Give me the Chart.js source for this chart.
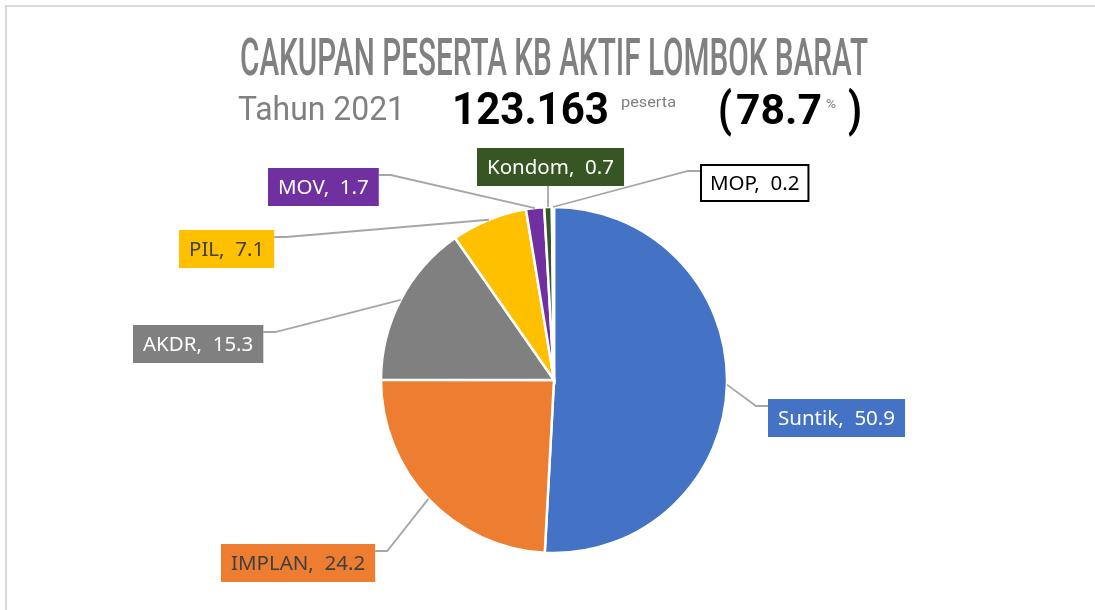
<!DOCTYPE html>
<html>
<head>
<meta charset="utf-8">
<title>Cakupan Peserta KB Aktif Lombok Barat</title>
<script src="https://cdn.jsdelivr.net/npm/chart.js@4/dist/chart.umd.min.js"></script>
<style>
  html, body { margin: 0; padding: 0; background: #ffffff; }
  #wrap { position: relative; width: 1095px; height: 610px; overflow: hidden; }
  #frame { position: absolute; left: 5px; top: 5px; width: 1200px; height: 700px;
           border-left: 2px solid #d9d9d9; border-top: 2px solid #d9d9d9; }
  #pie { position: absolute; left: 0; top: 0; }
  .hd { position: absolute; white-space: nowrap; line-height: 1; font-family: Roboto, "Noto Sans", sans-serif;
        transform-origin: 0 0; }
</style>
</head>
<body>
<div id="wrap">
  <div id="frame"></div>
  <canvas id="pie" width="1095" height="610"></canvas>
  <div id="header"></div>
</div>
<script>
// Contraceptive method share of active family-planning participants (%)
const categories = ['Suntik', 'IMPLAN', 'AKDR', 'PIL', 'MOV', 'Kondom', 'MOP'];
const shares     = [50.9, 24.2, 15.3, 7.1, 1.7, 0.7, 0.2];
const sliceColors = ['#4472C4', '#ED7D31', '#808080', '#FFC000', '#7030A0', '#375623', '#FFFFFF'];
const labelTextColors = ['#ffffff', '#404040', '#ffffff', '#404040', '#ffffff', '#ffffff', '#000000'];

// Header figures
const titleText = 'CAKUPAN PESERTA KB AKTIF LOMBOK BARAT';
const yearText = 'Tahun 2021';
const participantsText = '123.163';
const participantsUnit = 'peserta';
const coverageText = '78.7';

// Header pieces: text, left x, baseline y, font size, weight, colour, fitted width
const headerPieces = [
  { t: titleText,        x: 240, b: 76,  s: 52, w: 500, c: '#808080', fw: 628 },
  { t: yearText,         x: 238, b: 120, s: 33, w: 400, c: '#808080', fw: 167 },
  { t: participantsText, x: 452, b: 124, s: 45, w: 700, c: '#000000', fw: 157 },
  { t: participantsUnit, x: 621, b: 107, s: 14, w: 400, c: '#808080', fw: 55 },
  { t: '(',              x: 718, b: 126, s: 48, w: 700, c: '#000000', fw: 14 },
  { t: coverageText,     x: 736, b: 124, s: 43, w: 700, c: '#000000', fw: 86 },
  { t: '%',              x: 826, b: 108, s: 12, w: 400, c: '#808080', fw: 10 },
  { t: ')',              x: 848, b: 126, s: 48, w: 700, c: '#000000', fw: 14 }
];

// Callout box placement (left, top) and the side where the leader line meets it
const calloutLayout = [
  { left: 768, top: 399, side: 'left' },
  { left: 221, top: 544, side: 'right' },
  { left: 133, top: 325, side: 'right' },
  { left: 179, top: 230, side: 'right' },
  { left: 268, top: 168, side: 'right' },
  { left: 477, top: 148, side: 'bottom' },
  { left: 700, top: 164, side: 'left' }
];

const header = document.getElementById('header');
headerPieces.forEach(p => {
  const el = document.createElement('div');
  el.className = 'hd';
  el.textContent = p.t;
  el.style.fontSize = p.s + 'px';
  el.style.fontWeight = p.w;
  el.style.color = p.c;
  el.style.left = p.x + 'px';
  el.style.top = (p.b - 0.842 * p.s) + 'px';
  header.appendChild(el);
  const natural = el.getBoundingClientRect().width;
  if (natural > 0) el.style.transform = 'scaleX(' + (p.fw / natural) + ')';
});

const BOX_H = 38;
const PAD_X = 10;
const ELBOW = 12;
const ATTACH_DY = 7;

const calloutPlugin = {
  id: 'callouts',
  afterDatasetsDraw(chart) {
    const ctx = chart.ctx;
    const meta = chart.getDatasetMeta(0);
    ctx.save();
    ctx.font = '20.5px "Noto Sans", "Open Sans", sans-serif';
    meta.data.forEach((arc, i) => {
      const p = arc.getProps(['x', 'y', 'startAngle', 'endAngle', 'outerRadius'], true);
      const mid = (p.startAngle + p.endAngle) / 2;
      const ax = p.x + Math.cos(mid) * p.outerRadius;
      const ay = p.y + Math.sin(mid) * p.outerRadius;
      const text = categories[i] + ',  ' + shares[i].toFixed(1);
      const tw = ctx.measureText(text).width;
      const L = calloutLayout[i];
      const bw = tw + PAD_X * 2;
      const bx = L.left, by = L.top;

      // leader line
      ctx.strokeStyle = '#a6a6a6';
      ctx.lineWidth = 1.8;
      ctx.beginPath();
      ctx.moveTo(ax, ay);
      if (L.side === 'left') {
        const yy = by + ATTACH_DY;
        ctx.lineTo(bx - ELBOW, yy);
        ctx.lineTo(bx, yy);
      } else if (L.side === 'right') {
        const yy = by + ATTACH_DY;
        ctx.lineTo(bx + bw + ELBOW, yy);
        ctx.lineTo(bx + bw, yy);
      } else {
        ctx.lineTo(ax, by + BOX_H);
      }
      ctx.stroke();

      // label box
      const fill = sliceColors[i];
      ctx.fillStyle = fill;
      ctx.fillRect(bx, by, bw, BOX_H);
      if (fill.toUpperCase() === '#FFFFFF') {
        ctx.strokeStyle = '#000000';
        ctx.lineWidth = 2;
        ctx.strokeRect(bx + 1, by + 1, bw - 2, BOX_H - 2);
      }
      ctx.fillStyle = labelTextColors[i];
      ctx.textBaseline = 'alphabetic';
      ctx.textAlign = 'left';
      ctx.fillText(text, bx + PAD_X, by + 26);
    });
    ctx.restore();
  }
};

new Chart(document.getElementById('pie'), {
  type: 'pie',
  data: {
    labels: categories,
    datasets: [{
      data: shares,
      backgroundColor: sliceColors,
      borderColor: '#ffffff',
      borderWidth: 2.5,
      borderJoinStyle: 'miter'
    }]
  },
  options: {
    responsive: false,
    animation: false,
    radius: 173,
    layout: { padding: { left: 200, right: 187, top: 180, bottom: 30 } },
    plugins: {
      legend: { display: false },
      tooltip: { enabled: false },
      title: { display: false }
    }
  },
  plugins: [calloutPlugin]
});
</script>
</body>
</html>
